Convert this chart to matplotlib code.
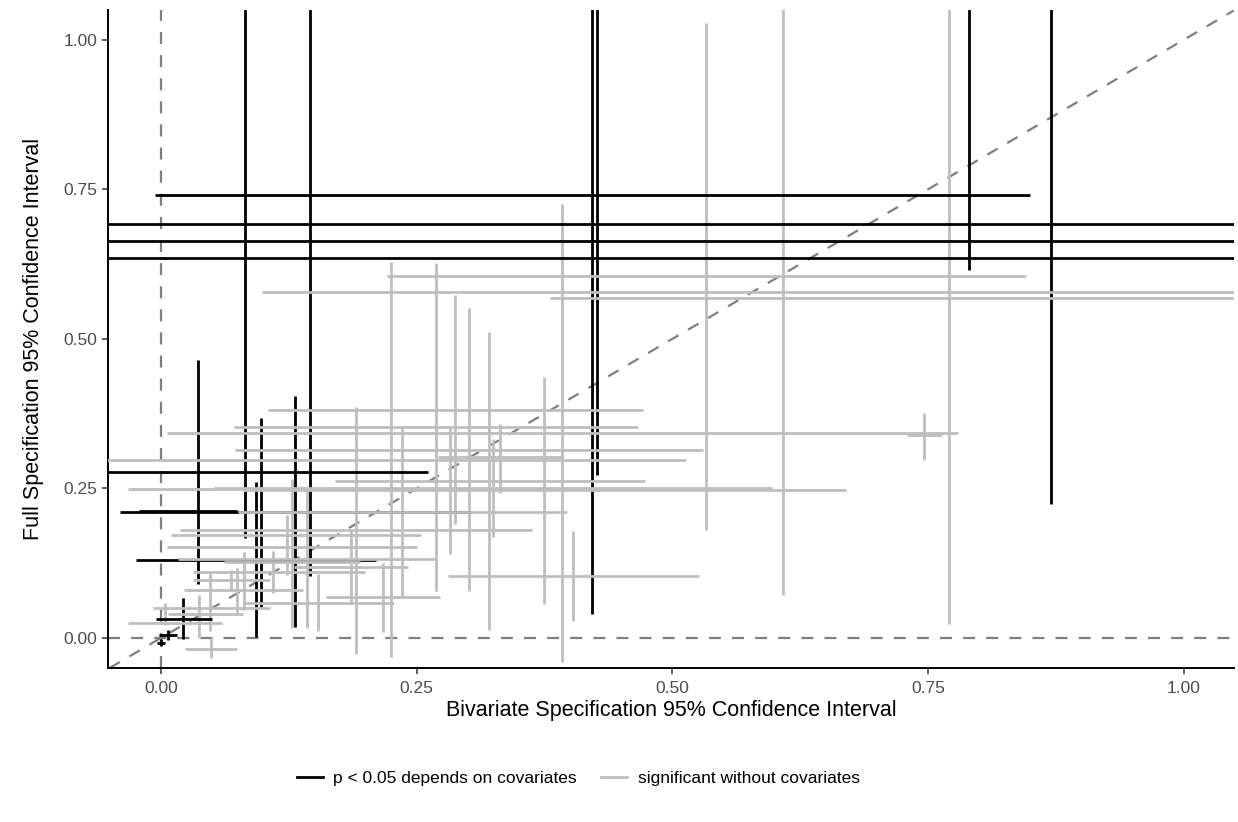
import matplotlib
matplotlib.use('Agg')
import matplotlib.pyplot as plt
from matplotlib.lines import Line2D

plt.rcParams['font.family'] = ['Liberation Sans', 'DejaVu Sans']

# one row per crosshair: bivariate estimate + CI (x), full estimate + CI (y)
est_x = [0.036, 0.082, 0.093, 0.098, 0.131, 0.146, 0.422, 0.426, 0.790, 0.870,
         0.022, 0.007, 0.000,
         0.533, 0.608, 0.771, 0.392, 0.288, 0.269, 0.301, 0.225, 0.332, 0.321,
         0.325, 0.283, 0.375, 0.236, 0.191, 0.403, 0.217, 0.746,
         0.186, 0.143, 0.128, 0.123, 0.154, 0.081, 0.074, 0.048, 0.049, 0.037,
         0.004, 0.069, 0.110]
x_lo = [-0.189, -0.300, -0.024, -0.021, -0.040, -0.200, -0.006, -0.500, -0.200, -0.300,
        -0.005, -0.002, -0.004,
        0.221, 0.099, 0.380, 0.006, 0.105, 0.071, 0.072, -0.063, 0.271, 0.170,
        0.052, -0.032, 0.080, 0.075, 0.019, 0.281, 0.161, 0.730,
        0.130, 0.017, 0.006, 0.010, 0.080, 0.062, 0.023, -0.008, 0.024, 0.007,
        -0.032, 0.031, 0.031]
x_hi = [0.261, 0.460, 0.210, 0.074, 0.303, 0.490, 0.850, 1.350, 1.800, 2.000,
        0.050, 0.016, 0.004,
        0.846, 1.117, 1.160, 0.779, 0.471, 0.467, 0.530, 0.513, 0.393, 0.473,
        0.598, 0.598, 0.670, 0.397, 0.363, 0.526, 0.273, 0.764,
        0.242, 0.269, 0.250, 0.254, 0.228, 0.195, 0.139, 0.107, 0.074, 0.080,
        0.060, 0.107, 0.200]
est_y = [0.277, 1.300, 0.131, 0.213, 0.211, 1.350, 0.740, 0.693, 0.663, 0.635,
         0.032, 0.005, -0.008,
         0.605, 0.578, 0.568, 0.343, 0.382, 0.353, 0.315, 0.298, 0.302, 0.263,
         0.251, 0.249, 0.247, 0.210, 0.180, 0.104, 0.068, 0.340,
         0.119, 0.132, 0.152, 0.172, 0.058, 0.127, 0.080, 0.050, -0.018, 0.040,
         0.025, 0.097, 0.110]
y_lo = [0.090, 0.167, 0.002, 0.052, 0.018, 0.104, 0.040, 0.273, 0.616, 0.224,
        -0.002, -0.003, -0.014,
        0.181, 0.072, 0.023, -0.040, 0.191, 0.079, 0.079, -0.032, 0.243, 0.013,
        0.168, 0.141, 0.057, 0.069, -0.027, 0.028, 0.010, 0.298,
        0.059, 0.017, 0.017, 0.106, 0.012, 0.047, 0.039, 0.012, -0.034, 0.000,
        0.022, 0.080, 0.075]
y_hi = [0.464, 2.400, 0.260, 0.367, 0.404, 2.600, 1.440, 1.200, 1.500, 1.600,
        0.067, 0.013, -0.002,
        1.028, 1.084, 1.113, 0.725, 0.573, 0.627, 0.551, 0.628, 0.358, 0.511,
        0.332, 0.355, 0.437, 0.352, 0.387, 0.179, 0.125, 0.377,
        0.180, 0.253, 0.266, 0.206, 0.107, 0.144, 0.117, 0.109, 0.000, 0.072,
        0.059, 0.114, 0.145]
group = ['dep'] * 13 + ['sig'] * 31

labels = {'dep': 'p < 0.05 depends on covariates',
          'sig': 'significant without covariates'}
colors = {'dep': 'black', 'sig': '#BEBEBE'}
line_col = [colors[g] for g in group]

fig = plt.figure(figsize=(12.38, 8.22), dpi=100)
ax = fig.add_axes([0.0872, 0.1873, 0.9096, 0.8005])

# reference lines
ref = dict(color='#7F7F7F', lw=1.6, ls=(0, (5.4, 5.0)), zorder=1)
ax.axhline(0, **ref)
ax.axvline(0, **ref)
ax.axline((0, 0), (1, 1), **ref)

# full spec CI (vertical) first, then bivariate CI (horizontal)
ax.vlines(est_x, y_lo, y_hi, colors=line_col, lw=2.0, zorder=2)
ax.hlines(est_y, x_lo, x_hi, colors=line_col, lw=2.0, zorder=3)

ax.set_xlim(-0.0518, 1.0494)
ax.set_ylim(-0.0503, 1.05)
ticks = [0, 0.25, 0.5, 0.75, 1.0]
ax.set_xticks(ticks)
ax.set_yticks(ticks)
ax.set_xticklabels(['%.2f' % t for t in ticks])
ax.set_yticklabels(['%.2f' % t for t in ticks])
ax.tick_params(colors='#333333', labelcolor='#4D4D4D', labelsize=12.5,
               length=4, width=1.1)
ax.tick_params(axis='x', pad=5)
for s in ['top', 'right']:
    ax.spines[s].set_visible(False)
for s in ['left', 'bottom']:
    ax.spines[s].set_linewidth(1.4)
    ax.spines[s].set_color('black')

ax.set_xlabel('Bivariate Specification 95% Confidence Interval', fontsize=15.5, labelpad=3)
ax.set_ylabel('Full Specification 95% Confidence Interval', fontsize=15.5, labelpad=14)

handles = [Line2D([], [], color=colors[g], lw=2.0) for g in ['dep', 'sig']]
fig.legend(handles, [labels['dep'], labels['sig']], loc='center',
           bbox_to_anchor=(0.467, 0.0535), ncol=2, frameon=False,
           fontsize=12.5, handlelength=1.5, columnspacing=1.4, handletextpad=0.6)

fig.savefig('out.png', dpi=100)
